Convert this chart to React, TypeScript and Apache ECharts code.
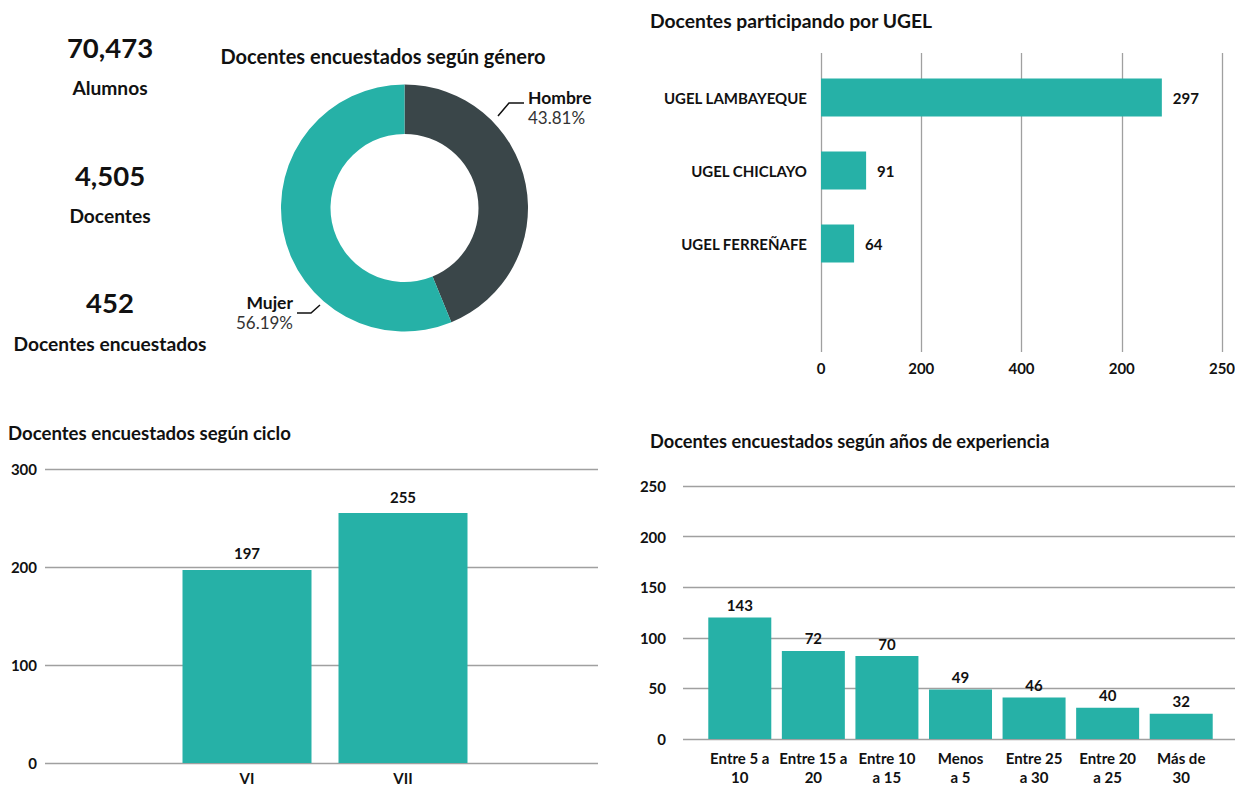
import React, { useEffect, useRef } from "react";
import * as echarts from "echarts";

const FONT = "Lato, 'Open Sans', sans-serif";
const TEAL = "#26b1a7";
const DARK = "#3a4649";
const TXT = "#111111";
const GRID = "#a0a0a0";

const kpiValues = ["70,473", "4,505", "452"];
const kpiLabels = ["Alumnos", "Docentes", "Docentes encuestados"];

const genderNames = ["Hombre", "Mujer"];
const genderValues = [43.81, 56.19];

const ugelNames = ["UGEL LAMBAYEQUE", "UGEL CHICLAYO", "UGEL FERREÑAFE", ""];
const ugelBarValues = [340, 45, 33];
const ugelLabels = ["297", "91", "64"];
const ugelTickLabels = ["0", "200", "400", "200", "250"];

const cicloNames = ["VI", "VII"];
const cicloValues = [197, 255];

const expNames = [
  "Entre 5 a\n10",
  "Entre 15 a\n20",
  "Entre 10\na 15",
  "Menos\na 5",
  "Entre 25\na 30",
  "Entre 20\na 25",
  "Más de\n30",
];
const expBarValues = [120, 87, 82, 49, 41, 31, 25];
const expLabels = ["143", "72", "70", "49", "46", "40", "32"];

const titles = [
  { text: "Docentes encuestados según género", x: 383, y: 56, align: "center", size: 20 },
  { text: "Docentes participando por UGEL", x: 650, y: 20, align: "left", size: 19.3 },
  { text: "Docentes encuestados según ciclo", x: 8, y: 433, align: "left", size: 18.6 },
  { text: "Docentes encuestados según años de experiencia", x: 650, y: 441, align: "left", size: 18.2 },
];

function txt(text: string, x: number, y: number, size: number, align = "center", weight = "bold") {
  return {
    type: "text",
    x,
    y,
    silent: true,
    style: {
      text,
      font: `${weight} ${size}px ${FONT}`,
      fill: TXT,
      textAlign: align,
      textVerticalAlign: "middle",
    },
  };
}

export default function App() {
  const ref = useRef<HTMLDivElement>(null);
  useEffect(() => {
    if (!ref.current) return;
    const chart = echarts.init(ref.current, null, { renderer: "svg" });
    const kpiY = [47, 175, 302];
    const labY = [87, 215, 343];
    const graphics: any[] = [];
    kpiValues.forEach((v, i) => {
      graphics.push(txt(v, 110, kpiY[i], 27.5));
      graphics.push(txt(kpiLabels[i], 110, labY[i], 19.2));
    });
    titles.forEach((t) => graphics.push(txt(t.text, t.x, t.y, t.size, t.align)));

    const axisLabelStyle = { color: TXT, fontWeight: "bold", fontSize: 15, fontFamily: FONT };
    const g = (o: any) => ({ ...o, outerBoundsMode: "none", containLabel: false });

    const option: any = {
      animation: false,
      textStyle: { fontFamily: FONT },
      graphic: graphics,
      grid: [
        g({ left: 821, top: 53, width: 401, height: 299 }),
        g({ left: 821, top: 61, width: 401, height: 292 }),
        g({ left: 45, top: 469, width: 553, height: 294 }),
        g({ left: 169, top: 469, width: 312, height: 294 }),
        g({ left: 683, top: 486, width: 552, height: 253 }),
        g({ left: 703, top: 486, width: 515, height: 253 }),
      ],
      xAxis: [
        {
          gridIndex: 0, type: "value", min: 0, max: 400, interval: 100,
          axisLine: { show: false }, axisTick: { show: false },
          splitLine: { lineStyle: { color: GRID, width: 1.3 } },
          axisLabel: { ...axisLabelStyle, margin: 8, formatter: (_v: number, i: number) => ugelTickLabels[i] ?? "" },
        },
        { gridIndex: 1, type: "value", min: 0, max: 400, show: false },
        { gridIndex: 2, type: "value", min: 0, max: 1, show: false },
        {
          gridIndex: 3, type: "category", data: cicloNames,
          axisLine: { show: false }, axisTick: { show: false },
          axisLabel: { ...axisLabelStyle, margin: 7, lineHeight: 15 },
        },
        { gridIndex: 4, type: "value", min: 0, max: 1, show: false },
        {
          gridIndex: 5, type: "category", data: expNames,
          axisLine: { show: false }, axisTick: { show: false },
          axisLabel: { ...axisLabelStyle, margin: 9, lineHeight: 19, interval: 0 },
        },
      ],
      yAxis: [
        { gridIndex: 0, type: "value", min: 0, max: 1, show: false },
        {
          gridIndex: 1, type: "category", data: ugelNames, inverse: true,
          axisLine: { show: false }, axisTick: { show: false },
          axisLabel: { ...axisLabelStyle, margin: 14 },
        },
        {
          gridIndex: 2, type: "value", min: 0, max: 300, interval: 100,
          axisLine: { show: false }, axisTick: { show: false },
          splitLine: { lineStyle: { color: GRID, width: 1.3 } },
          axisLabel: { ...axisLabelStyle, margin: 8 },
        },
        { gridIndex: 3, type: "value", min: 0, max: 300, show: false },
        {
          gridIndex: 4, type: "value", min: 0, max: 250, interval: 50,
          axisLine: { show: false }, axisTick: { show: false },
          splitLine: { lineStyle: { color: GRID, width: 1.3 } },
          axisLabel: { ...axisLabelStyle, margin: 17 },
        },
        { gridIndex: 5, type: "value", min: 0, max: 250, show: false },
      ],
      series: [
        {
          type: "pie",
          center: [404.5, 208],
          radius: [74, 123.5],
          startAngle: 90,
          clockwise: true,
          color: [DARK, TEAL],
          data: genderNames.map((n, i) => ({ name: n, value: genderValues[i] })),
          label: {
            show: true,
            formatter: "{b|{b}}\n{p|{d}%}",
            rich: {
              b: { fontWeight: "bold", fontSize: 17.5, lineHeight: 20, color: TXT, fontFamily: FONT },
              p: { fontSize: 17, lineHeight: 20, color: "#333", fontFamily: FONT },
            },
          },
          labelLine: { show: true, lineStyle: { color: "#111", width: 1.5 } },
          labelLayout: (p: any) =>
            p.dataIndex === 0
              ? { x: 528, y: 107, align: "left", verticalAlign: "middle", labelLinePoints: [[498, 116], [509, 103], [524, 103]] }
              : { x: 293, y: 312, align: "right", verticalAlign: "middle", labelLinePoints: [[320, 305], [311, 313], [297, 313]] },
        },
        {
          type: "bar", xAxisIndex: 1, yAxisIndex: 1, barWidth: 38,
          itemStyle: { color: TEAL },
          data: ugelBarValues,
          label: {
            show: true, position: "right", distance: 11,
            color: TXT, fontWeight: "bold", fontSize: 15, fontFamily: FONT,
            formatter: (p: any) => ugelLabels[p.dataIndex],
          },
        },
        {
          type: "bar", xAxisIndex: 3, yAxisIndex: 3, barWidth: 129,
          itemStyle: { color: TEAL },
          data: cicloValues,
          label: {
            show: true, position: "top", distance: 9,
            color: TXT, fontWeight: "bold", fontSize: 15, fontFamily: FONT,
          },
        },
        {
          type: "bar", xAxisIndex: 5, yAxisIndex: 5, barWidth: 63,
          itemStyle: { color: TEAL },
          data: expBarValues,
          label: {
            show: true, position: "top", distance: 5,
            color: TXT, fontWeight: "bold", fontSize: 15, fontFamily: FONT,
            formatter: (p: any) => expLabels[p.dataIndex],
          },
        },
      ],
    };
    chart.setOption(option);
    return () => chart.dispose();
  }, []);
  return (
    <div
      ref={ref}
      style={{ position: "absolute", left: 0, top: 0, width: 1235, height: 787, background: "#fff" }}
    />
  );
}
